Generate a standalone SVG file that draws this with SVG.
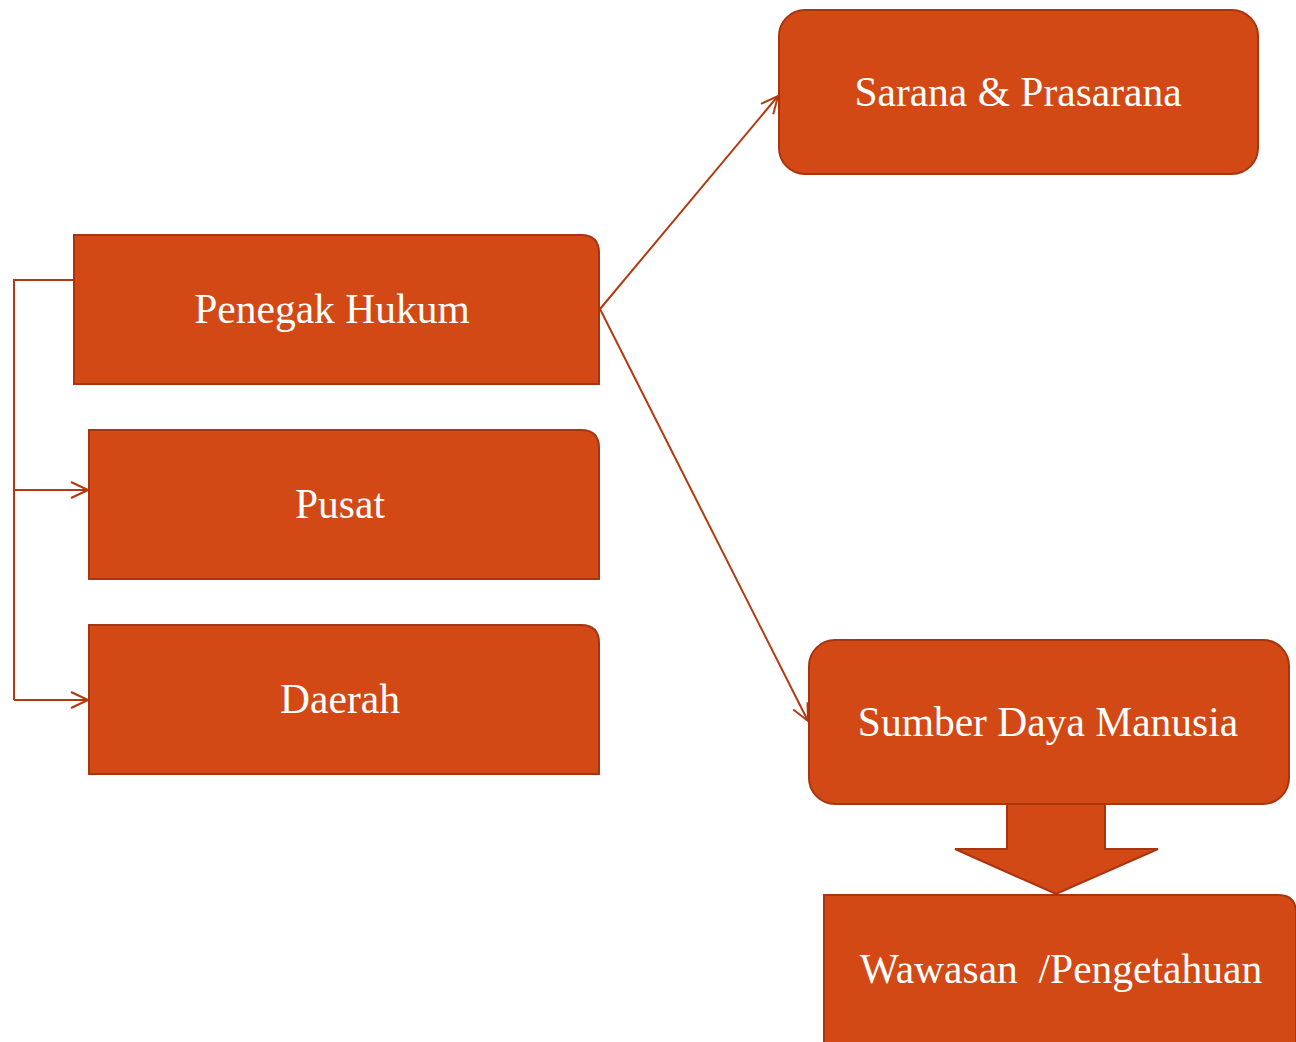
<svg xmlns="http://www.w3.org/2000/svg" width="1296" height="1042" viewBox="0 0 1296 1042">
  <style>
    .box { fill: #D24916; stroke: #A8350F; stroke-width: 2; }
    .lbl { font-family: "Liberation Serif", "DejaVu Serif", serif; font-size: 41.5px; fill: #FFFFFF; text-anchor: middle; }
    .wire { fill: none; stroke: #B23A10; stroke-width: 2; }
  </style>
  <defs>
    <marker id="open" viewBox="0 0 20 20" refX="19" refY="10" markerWidth="20" markerHeight="20" markerUnits="userSpaceOnUse" orient="auto">
      <path d="M2,2 L19,10 L2,18" fill="none" stroke="#B23A10" stroke-width="2"/>
    </marker>
  </defs>

  <g id="connectors">
    <path class="wire" d="M74,280 H14 V700"/>
    <path class="wire" d="M14,490 H88" marker-end="url(#open)"/>
    <path class="wire" d="M14,700 H88" marker-end="url(#open)"/>
    <path class="wire" d="M600,309 L778,96" marker-end="url(#open)"/>
    <path class="wire" d="M600,309 L808,721" marker-end="url(#open)"/>
    <path id="block-arrow" class="box" d="M1007,804 H1105 V849 H1158 L1056,894 L955,849 H1007 Z"/>
  </g>

  <g id="penegak-hukum">
    <path class="box" d="M74,235 H581 Q599,235 599,253 V384 H74 Z"/>
    <text class="lbl" x="332" y="323">Penegak Hukum</text>
  </g>
  <g id="pusat">
    <path class="box" d="M89,430 H581 Q599,430 599,448 V579 H89 Z"/>
    <text class="lbl" x="340" y="518">Pusat</text>
  </g>
  <g id="daerah">
    <path class="box" d="M89,625 H581 Q599,625 599,643 V774 H89 Z"/>
    <text class="lbl" x="340" y="713">Daerah</text>
  </g>
  <g id="sarana-prasarana">
    <rect class="box" x="779" y="10" width="479" height="164" rx="26" ry="26"/>
    <text class="lbl" x="1018" y="106">Sarana &amp; Prasarana</text>
  </g>
  <g id="sumber-daya-manusia">
    <rect class="box" x="809" y="640" width="480" height="164" rx="26" ry="26"/>
    <text class="lbl" x="1048" y="736">Sumber Daya Manusia</text>
  </g>
  <g id="wawasan-pengetahuan">
    <path class="box" d="M824,895 H1278 Q1296,895 1296,913 V1043 H824 Z"/>
    <text class="lbl" x="1061" y="983">Wawasan&#160; /Pengetahuan</text>
  </g>
</svg>
